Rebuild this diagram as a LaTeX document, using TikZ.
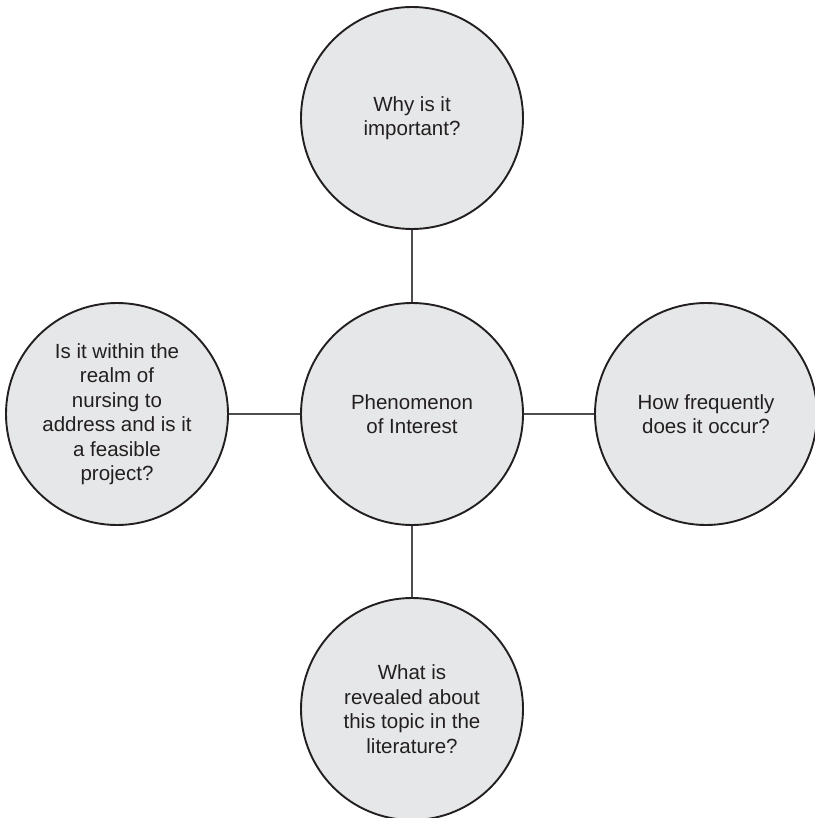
\documentclass[tikz,border=0pt]{standalone}
\usepackage{fontspec}
\setmainfont{Liberation Sans}
\definecolor{bubblefill}{HTML}{E6E7E8}
\definecolor{bubbleline}{HTML}{231F20}
\definecolor{linkline}{HTML}{4D4D4F}
\begin{document}
\begin{tikzpicture}[x=1pt,y=-1pt,
  bubble/.style={circle,draw=bubbleline,fill=bubblefill,line width=1.9pt,
    minimum size=222pt,inner sep=0pt,align=center,
    font=\fontsize{20.5}{24.5}\selectfont,text=bubbleline},
  link/.style={draw=linkline,line width=1.2pt}]
\useasboundingbox (0,0) rectangle (814,818);
\node[bubble] (top) at (412,118) {Why is it\\important?};
\node[bubble] (mid) at (412,414) {Phenomenon\\of Interest};
\node[bubble] (left) at (117,414) {Is it within the\\realm of\\nursing to\\address and is it\\a feasible\\project?};
\node[bubble] (right) at (706,414) {How frequently\\does it occur?};
\node[bubble] (bot) at (412,709) {What is\\revealed about\\this topic in the\\literature?};
\draw[link] (top) -- (mid);
\draw[link] (mid) -- (left);
\draw[link] (mid) -- (right);
\draw[link] (mid) -- (bot);
\end{tikzpicture}
\end{document}
